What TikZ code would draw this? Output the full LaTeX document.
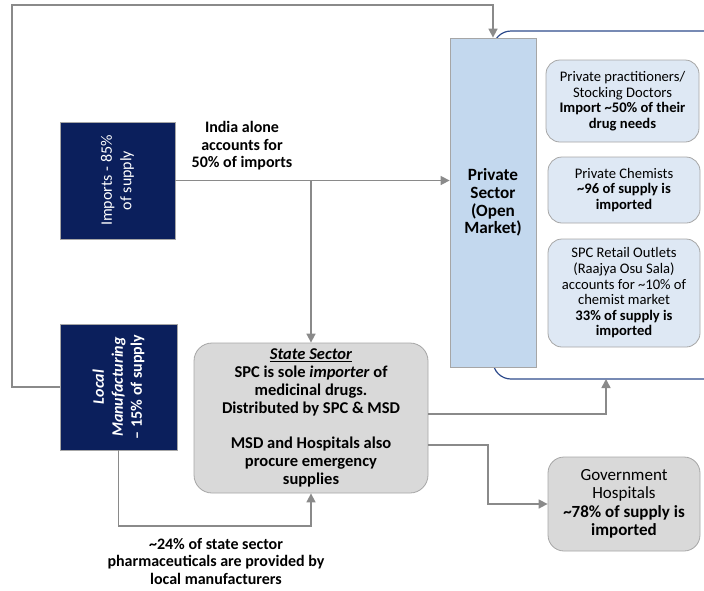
\documentclass[tikz,border=0pt]{standalone}
\usepackage{fontspec}
\setmainfont{Carlito}
\usetikzlibrary{arrows.meta,positioning}
\definecolor{navy}{HTML}{0B1F5C}
\definecolor{psblue}{HTML}{C3D8EE}
\definecolor{lblue}{HTML}{DEE8F4}
\definecolor{lgray}{HTML}{D9D9D9}
\definecolor{conn}{HTML}{8A8A8A}
\definecolor{bord}{HTML}{A6A6A6}
\definecolor{brk}{HTML}{2E4B8C}
\tikzset{
  navybox/.style={draw=bord, fill=navy, line width=0.8pt, inner sep=0pt},
  navytext/.style={rotate=90, text=white, align=center, font=\fontsize{16}{19.5}\selectfont},
  psbox/.style={draw=bord, fill=psblue, line width=0.8pt, inner sep=0pt, align=center, font=\fontsize{17.2}{17.7}\selectfont\bfseries},
  subbox/.style={draw=bord, fill=lblue, line width=0.8pt, rounded corners=14pt, inner sep=0pt, align=center, font=\fontsize{14.6}{15.6}\selectfont},
  graybox/.style={draw=bord, fill=lgray, line width=0.8pt, rounded corners=18pt, inner sep=0pt, align=center},
  flow/.style={draw=conn, line width=1.6pt, -{Triangle[length=9pt,width=9pt]}},
  lbl/.style={align=center, font=\fontsize{16}{17.5}\selectfont\bfseries},
}
\begin{document}
\begin{tikzpicture}[x=1pt,y=-1pt]
\useasboundingbox (0,0) rectangle (704,590);
% bracket
\draw[brk, line width=1.2pt, rounded corners=18pt] (493,31) rectangle (740,379);
\coordinate (brb) at (606,379);
% boxes
\node[psbox, minimum width=86pt, minimum height=329pt] (ps) at (493,202.5) {Private\\Sector\\(Open\\Market)};
\node[navybox, minimum width=115pt, minimum height=117pt] (imp) at (117.5,180.5) {};
\node[navytext] (impt) at (imp.center) {Imports - 85\%\\of supply};
\node[navybox, minimum width=117pt, minimum height=126pt] (loc) at (118.5,387) {};
\node[navytext, font=\fontsize{16}{19}\selectfont\bfseries] (loct) at (loc.center) {\textit{Local}\\\textit{Manufacturing}\\– 15\% of supply};
\node[graybox, minimum width=234pt, minimum height=150pt, font=\fontsize{16.5}{17.9}\selectfont\bfseries] (st) at (311,418) {\underline{\textit{State Sector}}\\SPC is sole \textit{importer} of\\medicinal drugs.\\Distributed by SPC \& MSD\\[17.9pt]MSD and Hospitals also\\procure emergency\\supplies};
\node[graybox, minimum width=152pt, minimum height=94pt, rounded corners=16pt, font=\fontsize{17}{18.5}\selectfont] (gov) at (624,504) {Government\\Hospitals\\\textbf{\textasciitilde78\% of supply is}\\\textbf{imported}};
\node[subbox, minimum width=153pt, minimum height=82pt] (pp) at (622.5,101) {Private practitioners/\\Stocking Doctors\\\textbf{Import \textasciitilde50\% of their}\\\textbf{drug needs}};
\node[subbox, minimum width=152pt, minimum height=66pt] (pc) at (624,190) {Private Chemists\\\textbf{\textasciitilde96 of supply is}\\\textbf{imported}};
\node[subbox, minimum width=152pt, minimum height=108pt] (spc) at (624,293) {SPC Retail Outlets\\(Raajya Osu Sala)\\accounts for \textasciitilde10\% of\\chemist market\\\textbf{33\% of supply is}\\\textbf{imported}};
% labels
\node[lbl] (india) at (242,146) {India alone\\accounts for\\50\% of imports};
\node[lbl] (local24) at (216,561) {\textasciitilde24\% of state sector\\pharmaceuticals are provided by\\local manufacturers};
% connectors
\coordinate (j1) at (311,181);
\draw[flow] (loc.west) -- (12,387) -- (12,5) -- (493,5) -- (ps.north);
\draw[flow] (imp.east) -- (imp.east -| ps.west);
\draw[flow] (j1) -- (st.north);
\draw[flow] (loc.south) -- (118.5,526) -| (st.south);
\draw[flow] ([yshift=4pt]st.east) -| (brb);
\draw[flow] ([yshift=-27pt]st.east) -- (488,445) |- (gov.west);
\end{tikzpicture}
\end{document}
